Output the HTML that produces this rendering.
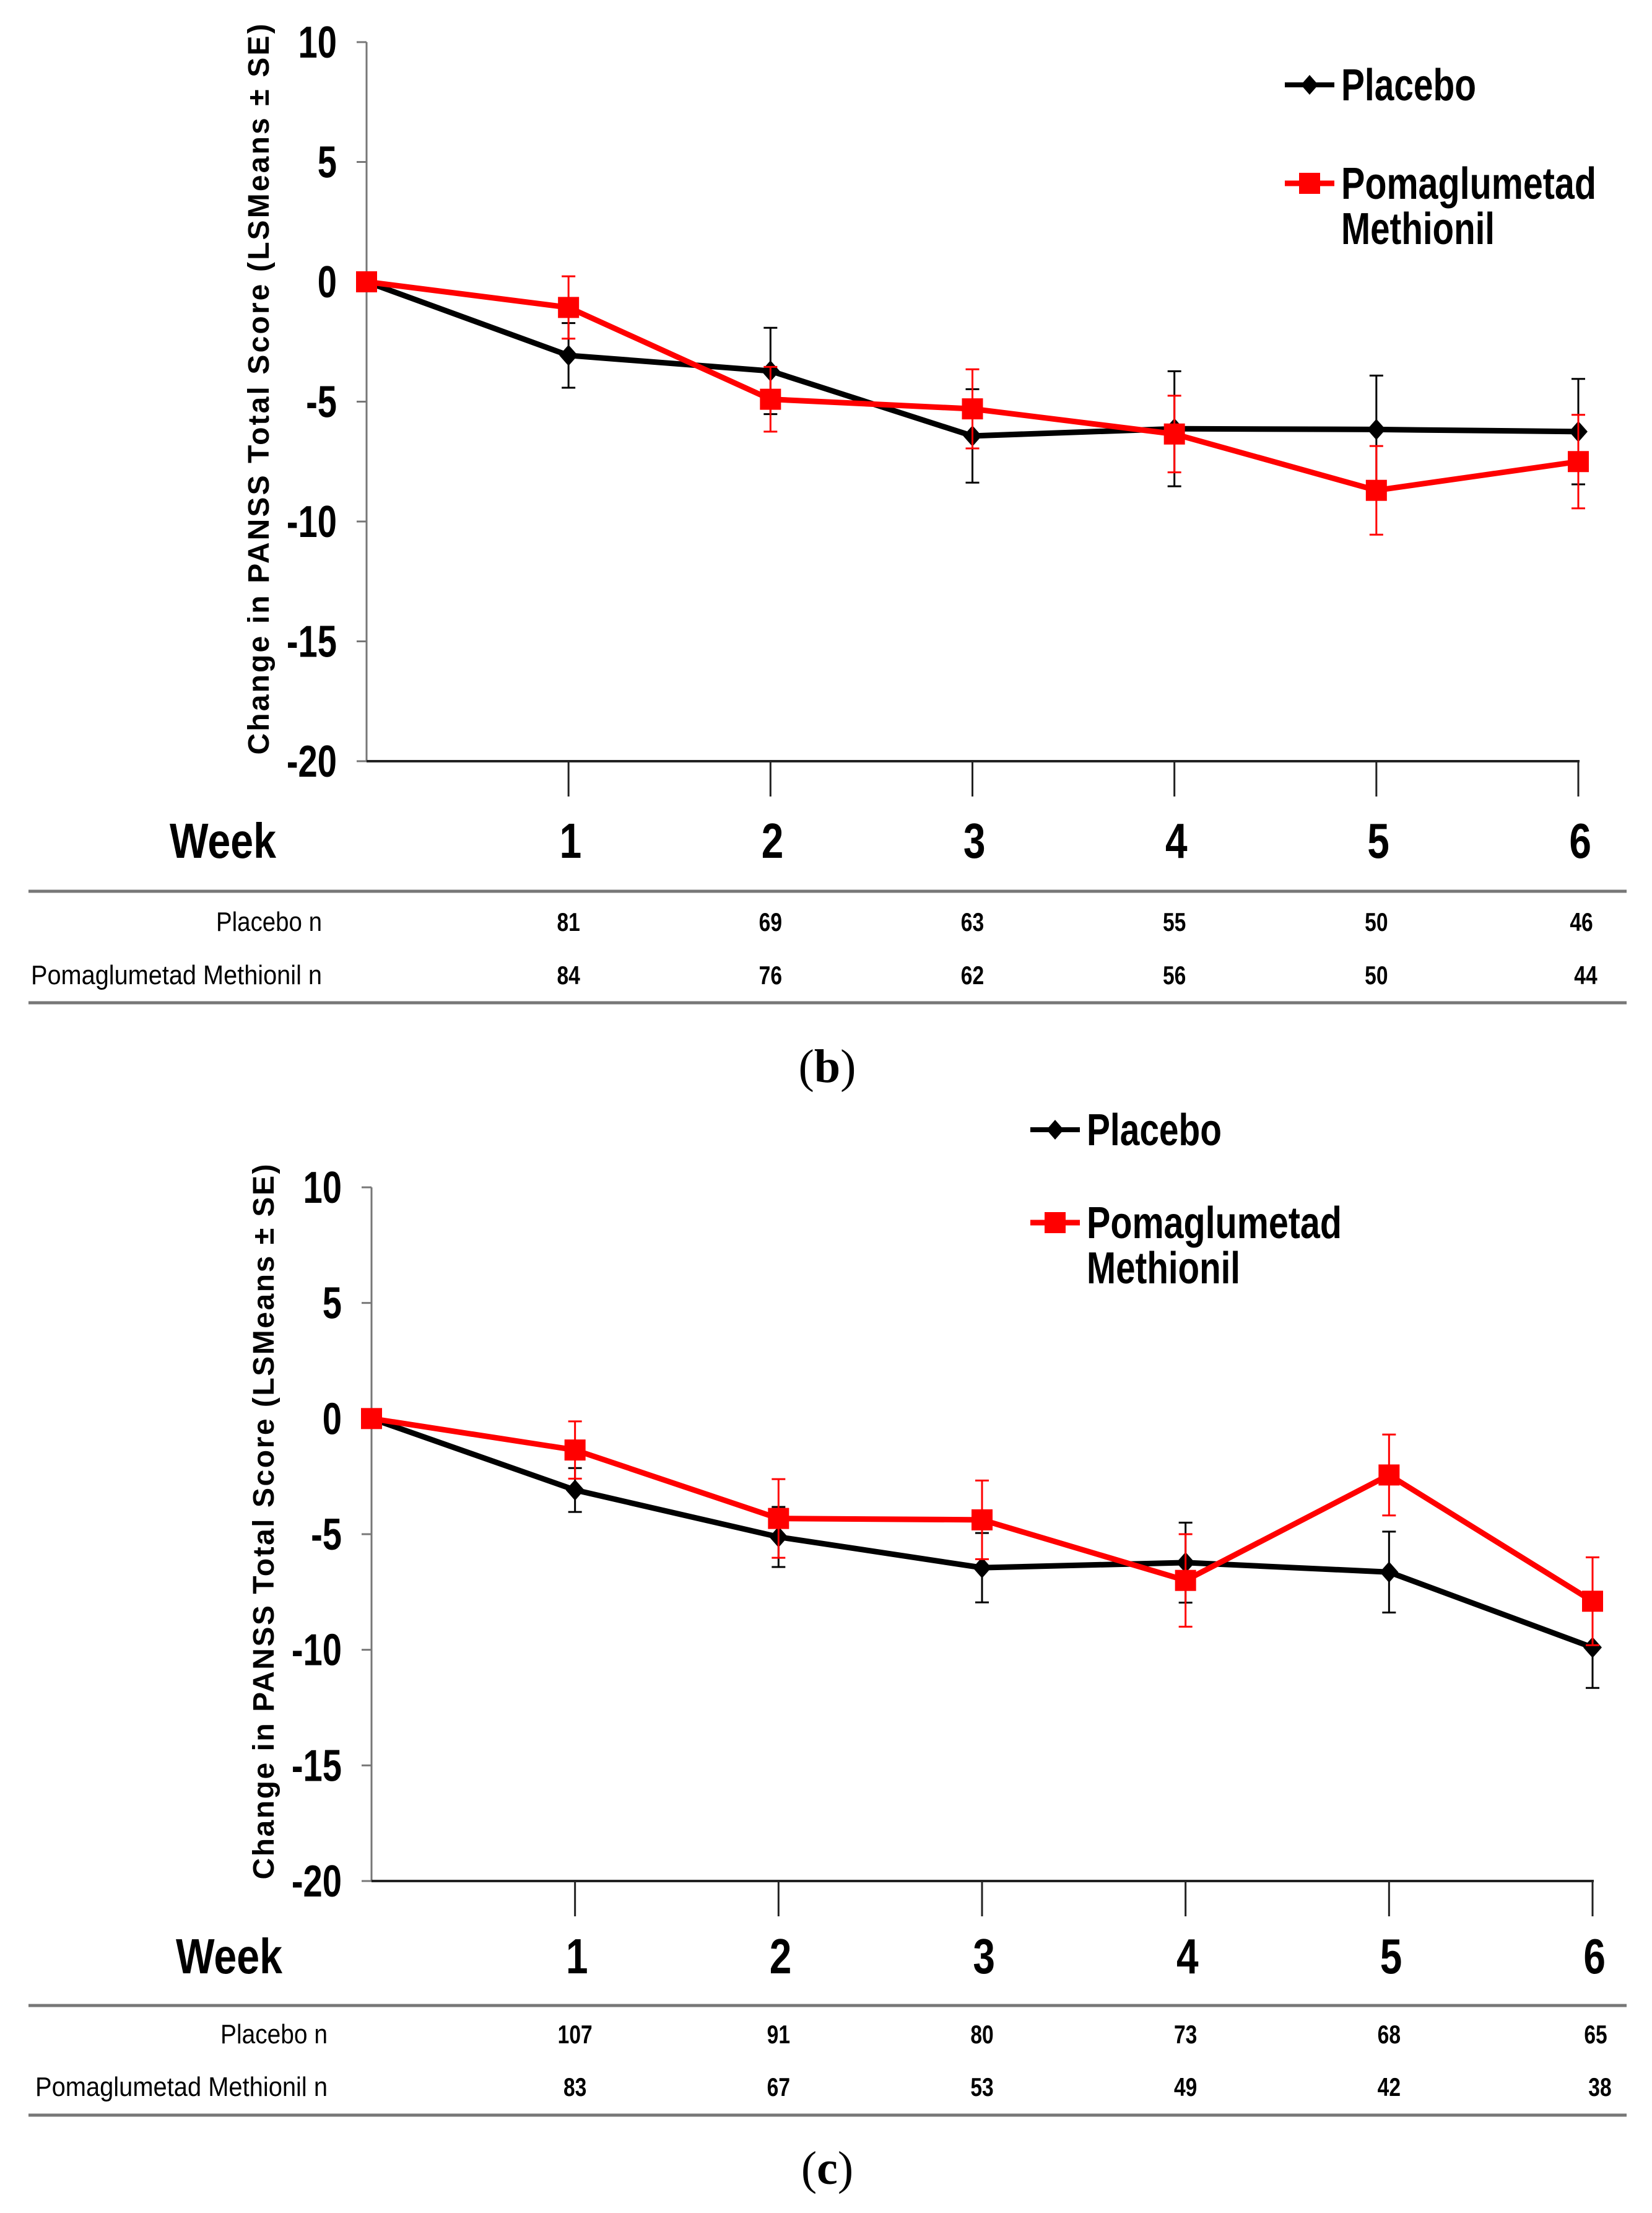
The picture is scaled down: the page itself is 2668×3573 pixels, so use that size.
<!DOCTYPE html>
<html><head><meta charset="utf-8"><style>
html,body{margin:0;padding:0;background:#fff;}
svg{display:block;}
text{font-family:"Liberation Sans",Arial,sans-serif;}
</style></head><body>
<svg id="fig" width="2668" height="3573" viewBox="0 0 2668 3573" xmlns="http://www.w3.org/2000/svg"></svg>
<script>
// ---- data ----
const weeks = [0,1,2,3,4,5,6];
const yTicks = [10,5,0,-5,-10,-15,-20];
const weekLabels = ["1","2","3","4","5","6"];
// panel b
const bPlacebo = [0,-3.07,-3.72,-6.43,-6.13,-6.16,-6.25];
const bPlaceboSE = [0,1.35,1.8,1.95,2.4,2.25,2.2];
const bPoma = [0,-1.07,-4.9,-5.3,-6.35,-8.7,-7.5];
const bPomaSE = [0,1.3,1.35,1.65,1.6,1.85,1.95];
const bPlaceboN = ["81","69","63","55","50","46"];
const bPomaN = ["84","76","62","56","50","44"];
// panel c
const cPlacebo = [0,-3.09,-5.12,-6.45,-6.23,-6.64,-9.9];
const cPlaceboSE = [0,0.95,1.3,1.5,1.73,1.75,1.75];
const cPoma = [0,-1.36,-4.32,-4.38,-7.0,-2.44,-7.9];
const cPomaSE = [0,1.24,1.7,1.7,2.0,1.75,1.9];
const cPlaceboN = ["107","91","80","73","68","65"];
const cPomaN = ["83","67","53","49","42","38"];

const NS="http://www.w3.org/2000/svg";
const svg=document.getElementById('fig');
function mk(tag,attrs,parent,txt){const e=document.createElementNS(NS,tag);for(const k in attrs)e.setAttribute(k,attrs[k]);if(txt!==undefined)e.textContent=txt;(parent||svg).appendChild(e);return e;}

function panel(P){
  const g=mk('g',{});
  
  
  const x=w=>P.x0+(P.xw-P.x0)*w/6;
  const y=v=>P.y10+(10-v)*(P.ym20-P.y10)/30;
  const ya=mk('line',{x1:P.x0,y1:P.y10,x2:P.x0,y2:P.ym20,stroke:'#777','stroke-width':3},g);
  
  
  yTicks.forEach(t=>{
    mk('line',{x1:P.x0-16,y1:y(t),x2:P.x0,y2:y(t),stroke:'#777','stroke-width':3},g);
    const tl=mk('text',{x:P.x0-48,y:y(t)+25,'text-anchor':'end','font-size':72,'font-weight':'bold',transform:`translate(${P.x0-48},0) scale(0.78,1) translate(${-(P.x0-48)},0)`},g,String(t));
    
    
  });
  const yt=mk('text',{x:0,y:0,'text-anchor':'middle','font-size':48,'font-weight':'bold',textLength:P.ytLen,lengthAdjust:'spacing',transform:`translate(${P.ytx},${(P.y10+P.ym20)/2-20}) rotate(-90)`},g,'Change in PANSS  Total Score (LSMeans \u00b1 SE)');
  
  
  const xa=mk('line',{x1:P.x0,y1:P.ym20,x2:x(6)+2,y2:P.ym20,stroke:'#222','stroke-width':4},g);
  
  
  weekLabels.forEach((l,i)=>{
    const w=i+1;
    mk('line',{x1:x(w),y1:P.ym20,x2:x(w),y2:P.ym20+57,stroke:'#222','stroke-width':3},g);
    const t=mk('text',{x:x(w)+4,y:P.weekY+28,'text-anchor':'middle','font-size':80,'font-weight':'bold',transform:`translate(${x(w)},0) scale(0.8,1) translate(${-x(w)},0)`},g,l);
    
    
  });
  const wk=mk('text',{x:P.weekX,y:P.weekY+28,'text-anchor':'middle','font-size':80,'font-weight':'bold',textLength:172,lengthAdjust:'spacingAndGlyphs'},g,'Week');
  
  
  function series(vals,se,color,lw,marker,nm){
    const sg=mk('g',{},g);
    
    
    vals.forEach((v,i)=>{ if(se[i]>0){
      const x1=x(weeks[i]);
      mk('line',{x1:x1,y1:y(v+se[i]),x2:x1,y2:y(v-se[i]),stroke:color,'stroke-width':3},sg);
      mk('line',{x1:x1-11,y1:y(v+se[i]),x2:x1+11,y2:y(v+se[i]),stroke:color,'stroke-width':3},sg);
      mk('line',{x1:x1-11,y1:y(v-se[i]),x2:x1+11,y2:y(v-se[i]),stroke:color,'stroke-width':3},sg);
    }});
    mk('polyline',{points:vals.map((v,i)=>x(weeks[i])+','+y(v)).join(' '),fill:'none',stroke:color,'stroke-width':lw,'stroke-linejoin':'round'},sg);
    vals.forEach((v,i)=>{
      const cx=x(weeks[i]),cy=y(v);
      let m;
      if(marker==='sq') m=mk('rect',{x:cx-17,y:cy-17,width:34,height:34,fill:color},sg);
      else m=mk('polygon',{points:`${cx},${cy-17} ${cx+15},${cy} ${cx},${cy+17} ${cx-15},${cy}`,fill:color},sg);
      
      
    });
  }
  series(P.plac,P.placSE,'#000',9,'dia','placebo-series');
  series(P.poma,P.pomaSE,'#ff0000',9,'sq','pomaglumetad-series');
  const lg=mk('g',{},g);
  
  
  mk('line',{x1:P.lx,y1:P.ly1,x2:P.lx+80,y2:P.ly1,stroke:'#000','stroke-width':8},lg);
  const ld=P.lx+40;
  mk('polygon',{points:`${ld},${P.ly1-16} ${ld+14},${P.ly1} ${ld},${P.ly1+16} ${ld-14},${P.ly1}`,fill:'#000'},lg);
  const l1=mk('text',{x:P.lx+91,y:P.ly1+25,'font-size':72,'font-weight':'bold',textLength:218,lengthAdjust:'spacingAndGlyphs'},lg,'Placebo');
  
  
  mk('line',{x1:P.lx,y1:P.ly2,x2:P.lx+80,y2:P.ly2,stroke:'#ff0000','stroke-width':9},lg);
  mk('rect',{x:ld-17,y:P.ly2-17,width:34,height:34,fill:'#ff0000'},lg);
  const l2=mk('text',{x:P.lx+91,y:P.ly2+25,'font-size':72,'font-weight':'bold',textLength:412,lengthAdjust:'spacingAndGlyphs'},lg,'Pomaglumetad');
  
  
  const l3=mk('text',{x:P.lx+91,y:P.ly2+98,'font-size':72,'font-weight':'bold',textLength:248,lengthAdjust:'spacingAndGlyphs'},lg,'Methionil');
  
  
  const tg=mk('g',{},g);
  
  
  mk('line',{x1:46,y1:P.t1,x2:2627,y2:P.t1,stroke:'#777','stroke-width':5},tg);
  mk('line',{x1:46,y1:P.t2,x2:2627,y2:P.t2,stroke:'#777','stroke-width':5},tg);
  const r1=mk('text',{x:P.labEnd,y:P.r1+16,'text-anchor':'end','font-size':44,textLength:P.lab1Len,lengthAdjust:'spacingAndGlyphs'},tg,'Placebo n');
  
  
  const r2=mk('text',{x:P.labEnd,y:P.r2+16,'text-anchor':'end','font-size':44,textLength:P.lab2Len,lengthAdjust:'spacingAndGlyphs'},tg,'Pomaglumetad Methionil  n');
  
  
  P.pn.forEach((n,i)=>{
    const cx=x(i+1)+(i===5?5:0);
    const a=mk('text',{x:cx,y:P.r1+16,'text-anchor':'middle','font-size':42,'font-weight':'bold',transform:`translate(${cx},0) scale(0.8,1) translate(${-cx},0)`},tg,n);
    
    
  });
  P.qn.forEach((n,i)=>{
    const cx=x(i+1)+(i===5?12:0);
    const a=mk('text',{x:cx,y:P.r2+16,'text-anchor':'middle','font-size':42,'font-weight':'bold',transform:`translate(${cx},0) scale(0.8,1) translate(${-cx},0)`},tg,n);
    
    
  });
  const cap=mk('text',{x:1336,y:P.capY+26,'text-anchor':'middle','font-size':76,style:'font-family:"Liberation Serif",serif'},g);
  
  
  mk('tspan',{},cap,'(');
  mk('tspan',{'font-weight':'bold'},cap,P.letter);
  mk('tspan',{},cap,')');
}

panel({name:'panel-b',letter:'b',x0:592,xw:2549,y10:68,ym20:1229,ytx:434,ytLen:1180,weekX:360,weekY:1357,
  plac:bPlacebo,placSE:bPlaceboSE,poma:bPoma,pomaSE:bPomaSE,pn:bPlaceboN,qn:bPomaN,
  lx:2075,ly1:137,ly2:296,t1:1439,t2:1619,r1:1487,r2:1573,labEnd:520,lab1Len:171,lab2Len:470,capY:1721});
panel({name:'panel-c',letter:'c',x0:600,xw:2572,y10:1917,ym20:3037,ytx:442,ytLen:1155,weekX:370,weekY:3158,
  plac:cPlacebo,placSE:cPlaceboSE,poma:cPoma,pomaSE:cPomaSE,pn:cPlaceboN,qn:cPomaN,
  lx:1664,ly1:1824,ly2:1974,t1:3238,t2:3415,r1:3283,r2:3368,labEnd:529,lab1Len:173,lab2Len:472,capY:3500});
</script>
</body></html>
